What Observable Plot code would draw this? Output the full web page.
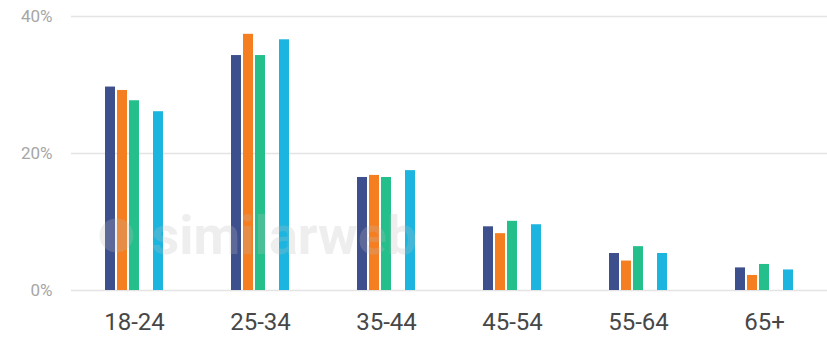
<!DOCTYPE html>
<html>
<head>
<meta charset="utf-8">
<script src="https://cdn.jsdelivr.net/npm/d3@7"></script>
<script src="https://cdn.jsdelivr.net/npm/@observablehq/plot@0.6"></script>
<style>
  html, body { margin: 0; padding: 0; background: #fff; }
  #chart { width: 827px; height: 341px; }
</style>
</head>
<body>
<div id="chart"></div>
<script>
// Age groups (categories)
const ageGroups = ["18-24", "25-34", "35-44", "45-54", "55-64", "65+"];
// Series slots (the 4th slot is empty in the original, leaving a gap)
const seriesSlots = ["Site 1", "Site 2", "Site 3", "(empty)", "Site 4"];
const seriesNames = ["Site 1", "Site 2", "Site 3", "Site 4"];
const seriesColors = ["#3e4f8e", "#f57f20", "#24bf8b", "#1cb5df"];
// Values in percent, per series, in age group order
const site1 = [29.7, 34.3, 16.5, 9.3, 5.4, 3.3];
const site2 = [29.2, 37.4, 16.8, 8.3, 4.3, 2.2];
const site3 = [27.7, 34.3, 16.5, 10.1, 6.4, 3.8];
const site4 = [26.1, 36.6, 17.5, 9.6, 5.4, 3.0];
const yTicks = [0, 20, 40];

const seriesValues = [site1, site2, site3, site4];
const data = [];
seriesNames.forEach((s, i) => {
  ageGroups.forEach((g, j) => data.push({group: g, series: s, value: seriesValues[i][j]}));
});

const chart = Plot.plot({
  width: 827,
  height: 341,
  marginLeft: 71,
  marginRight: 0,
  marginTop: 16,
  marginBottom: 51,
  style: {fontFamily: "Roboto, sans-serif", background: "#fff"},
  fx: {domain: ageGroups, padding: 0, label: null},
  x: {domain: seriesSlots, paddingInner: 0.13, paddingOuter: 2.5, axis: null},
  y: {domain: [0, 40], label: null},
  color: {domain: seriesNames, range: seriesColors},
  marks: [
    Plot.ruleY(yTicks, {stroke: "#e4e4e4", strokeWidth: 1.5}),
    Plot.barY(data, {fx: "group", x: "series", y: "value", fill: "series"}),
    Plot.text(["similarweb"], {fx: () => "18-24", frameAnchor: "bottom-left", dx: 80, dy: -37, fontSize: 54, fontWeight: "bold", fill: "#bbbbbb", fillOpacity: 0.25, textAnchor: "start"}),
    Plot.dot([0], {fx: () => "18-24", frameAnchor: "bottom-left", dx: 45, dy: -55, r: 17, fill: "#bbbbbb", fillOpacity: 0.25}),
    Plot.axisY({ticks: yTicks, tickFormat: d => d + "%", tickSize: 0, tickPadding: 19, fontSize: 17, color: "#a6a6a6", label: null}),
    Plot.axisFx({anchor: "bottom", tickSize: 0, tickPadding: 22, fontSize: 24, color: "#474747", label: null})
  ]
});
document.getElementById("chart").appendChild(chart);
</script>
</body>
</html>
